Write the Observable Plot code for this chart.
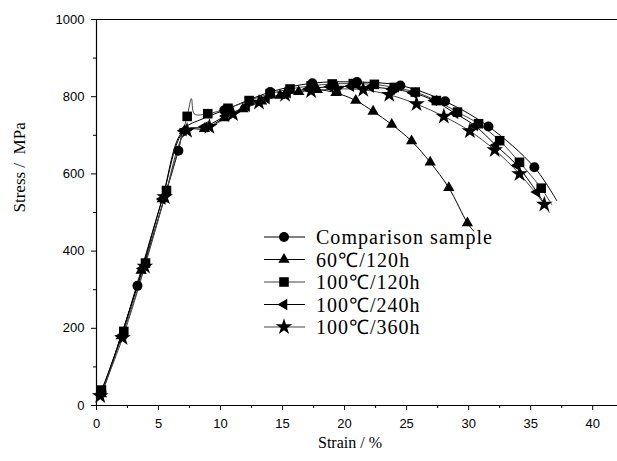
<!DOCTYPE html>
<html><head><meta charset="utf-8">
<script src="https://cdn.jsdelivr.net/npm/d3@7"></script>
<script src="https://cdn.jsdelivr.net/npm/@observablehq/plot@0.6"></script>
<style>
body{margin:0;background:#fff}
#wrap{position:relative;width:617px;height:461px}
</style>
</head><body><div id="wrap"></div>
<script>
// ---------- data ----------
const seriesNames = ["Comparison sample", "60℃/120h", "100℃/120h", "100℃/240h", "100℃/360h"];

const xTicks = [0, 5, 10, 15, 20, 25, 30, 35, 40];
const xMinorTicks = [2.5, 7.5, 12.5, 17.5, 22.5, 27.5, 32.5, 37.5];
const yTicks = [0, 200, 400, 600, 800, 1000];
const yMinorTicks = [100, 300, 500, 700, 900];

// Comparison sample (circles)
const cmpDotX = [0.4, 3.3, 6.6, 10.3, 14.0, 17.4, 21.0, 24.5, 28.1, 31.6, 35.3];
const cmpDotY = [35, 310, 660, 765, 812, 835, 838, 829, 788, 723, 617];
const cmpLineX = [0.2, 0.4, 3.3, 6.6, 7.1, 8.5, 10.3, 14.0, 17.4, 21.0, 24.5, 28.1, 31.6, 35.3, 37.1];
const cmpLineY = [22, 35, 310, 660, 718, 742, 765, 812, 835, 838, 829, 788, 723, 617, 531];

// 60℃/120h (triangles)
const t60DotX = [0.4, 2.0, 3.6, 5.3, 7.1, 8.7, 10.3, 11.8, 13.3, 14.8, 16.3, 17.8, 19.3, 20.9, 22.3, 23.8, 25.4, 26.9, 28.4, 29.9];
const t60DotY = [30, 180, 350, 535, 712, 717, 745, 768, 788, 803, 813, 818, 810, 790, 762, 728, 685, 630, 564, 473];
const t60LineX = [0.2, ...t60DotX, 30.4];
const t60LineY = [20, ...t60DotY, 452];

// 100℃/120h (squares)
const s120DotX = [0.4, 2.2, 3.95, 5.64, 7.31, 8.97, 10.6, 12.3, 14.0, 15.6, 17.3, 19.0, 20.7, 22.4, 24.0, 25.7, 27.4, 29.1, 30.8, 32.5, 34.1, 35.85];
const s120DotY = [40, 192, 369, 557, 749, 756, 770, 790, 808, 820, 828, 833, 834, 832, 824, 812, 790, 760, 730, 686, 630, 563];
const s120LineX = [0.2, 0.4, 2.2, 3.95, 5.64, 7.31, 7.65, 7.9, 8.97, 10.6, 12.3, 14.0, 15.6, 17.3, 19.0, 20.7, 22.4, 24.0, 25.7, 27.4, 29.1, 30.8, 32.5, 34.1, 35.85, 36.7];
const s120LineY = [28, 40, 192, 369, 557, 749, 795, 755, 756, 770, 790, 808, 820, 828, 833, 834, 832, 824, 812, 790, 760, 730, 686, 630, 563, 520];

// 100℃/240h (left triangles)
const l240DotX = [0.3, 2.0, 3.7, 5.3, 7.0, 8.7, 10.4, 12.1, 13.7, 15.4, 17.1, 18.8, 20.5, 22.1, 23.8, 25.5, 27.2, 28.9, 30.5, 32.2, 33.9, 35.5];
const l240DotY = [30, 180, 355, 535, 712, 722, 750, 775, 795, 810, 820, 826, 827, 825, 820, 810, 790, 757, 725, 674, 622, 553];
const l240LineX = [0.2, ...l240DotX, 36.3];
const l240LineY = [24, ...l240DotY, 512];

// 100℃/360h (stars)
const s360DotX = [0.3, 2.1, 3.9, 5.5, 7.3, 9.1, 11.0, 13.1, 15.2, 17.3, 19.4, 21.5, 23.6, 25.8, 28.0, 30.1, 32.1, 34.1, 36.1];
const s360DotY = [25, 175, 360, 540, 712, 722, 755, 785, 805, 815, 820, 818, 805, 781, 749, 711, 662, 600, 521];
const s360LineX = [0.2, ...s360DotX, 36.5];
const s360LineY = [18, ...s360DotY, 500];

// ---------- helpers ----------
const toPts = (xs, ys) => xs.map((x, i) => ({x, y: ys[i]}));

const triLeft = {
  draw(ctx, size) {
    const y = -Math.sqrt(size / (Math.sqrt(3) * 3));
    ctx.moveTo(2 * y, 0);
    ctx.lineTo(-y, -Math.sqrt(3) * y);
    ctx.lineTo(-y, Math.sqrt(3) * y);
    ctx.closePath();
  }
};

const plotSymbols = ["circle", "triangle", "square", triLeft, "star"];
const d3Symbols = [d3.symbolCircle, d3.symbolTriangle, d3.symbolSquare, triLeft, d3.symbolStar];
const radii = [5, 4.2, 5.4, 4.2, 5.2];
const lineColors = ["#000", "#000", "#444", "#000", "#444"];

const lineSets = [[cmpLineX, cmpLineY], [t60LineX, t60LineY], [s120LineX, s120LineY], [l240LineX, l240LineY], [s360LineX, s360LineY]];
const dotSets = [[cmpDotX, cmpDotY], [t60DotX, t60DotY], [s120DotX, s120DotY], [l240DotX, l240DotY], [s360DotX, s360DotY]];

const W = 617, H = 461;
const tickFont = "'Liberation Sans', Arial, sans-serif";
const serifFont = "'Liberation Serif', 'Times New Roman', serif";

const chart = Plot.plot({
  width: W, height: H,
  marginLeft: 96, marginRight: 0, marginTop: 19, marginBottom: 56,
  x: {domain: [0, 42]},
  y: {domain: [0, 1000]},
  style: {background: "#fff", color: "#000"},
  marks: [
    Plot.axisY({ticks: yTicks, tickFormat: "d", tickSize: 5, tickPadding: 7, fontSize: 13, fontFamily: tickFont, label: null, stroke: "#000"}),
    Plot.axisY({ticks: yMinorTicks, tickSize: 3, text: null, label: null, stroke: "#000"}),
    Plot.axisX({ticks: xTicks, tickFormat: "d", tickSize: 5, tickPadding: 8, fontSize: 13, fontFamily: tickFont, label: null, stroke: "#000"}),
    Plot.axisX({ticks: xMinorTicks, tickSize: 3, text: null, label: null, stroke: "#000"}),
    Plot.ruleY([0, 1000], {stroke: "#000", strokeWidth: 1.2}),
    Plot.ruleX([0], {stroke: "#000", strokeWidth: 1.2}),
    ...lineSets.map(([xs, ys], i) => Plot.line(toPts(xs, ys), {x: "x", y: "y", curve: "catmull-rom", stroke: lineColors[i], strokeWidth: 1})),
    ...dotSets.map(([xs, ys], i) => Plot.dot(toPts(xs, ys), {x: "x", y: "y", symbol: plotSymbols[i], r: radii[i], fill: "#000", stroke: "none"})),
    Plot.text(["Strain / %"], {text: d => d, frameAnchor: "bottom", dy: 42, dx: -7, fontSize: 16, fontFamily: serifFont, fill: "#000"}),
    Plot.text(["Stress /\u00a0 MPa"], {text: d => d, frameAnchor: "left", dx: -77, rotate: -90, fontSize: 17, fontFamily: serifFont, fill: "#000"})
  ]
});

const wrap = document.getElementById("wrap");
wrap.appendChild(chart);

// ---------- legend (inside the plot area) ----------
const legendTop = 237, legendStep = 22.5, lineX0 = 264, lineX1 = 305, markX = 284, textX = 316, halfW = 10.35;
const leg = d3.select(wrap).append("svg")
  .attr("width", W).attr("height", H)
  .style("position", "absolute").style("left", "0px").style("top", "0px")
  .style("pointer-events", "none");

seriesNames.forEach((name, i) => {
  const cy = legendTop + i * legendStep;
  leg.append("line").attr("x1", lineX0).attr("x2", lineX1).attr("y1", cy).attr("y2", cy)
    .attr("stroke", lineColors[i]).attr("stroke-width", 1.2);
  leg.append("path")
    .attr("d", d3.symbol(d3Symbols[i], Math.PI * radii[i] * radii[i])())
    .attr("transform", `translate(${markX},${cy})`)
    .attr("fill", "#000");
  const halfCount = Array.from(name).reduce((s, c) => s + (c.charCodeAt(0) > 255 ? 2 : 1), 0);
  leg.append("text")
    .attr("x", textX).attr("y", cy + 7)
    .attr("font-family", serifFont)
    .attr("font-size", 20)
    .attr("textLength", halfCount * halfW)
    .attr("lengthAdjust", "spacing")
    .attr("fill", "#000")
    .text(name);
});
</script></body></html>
